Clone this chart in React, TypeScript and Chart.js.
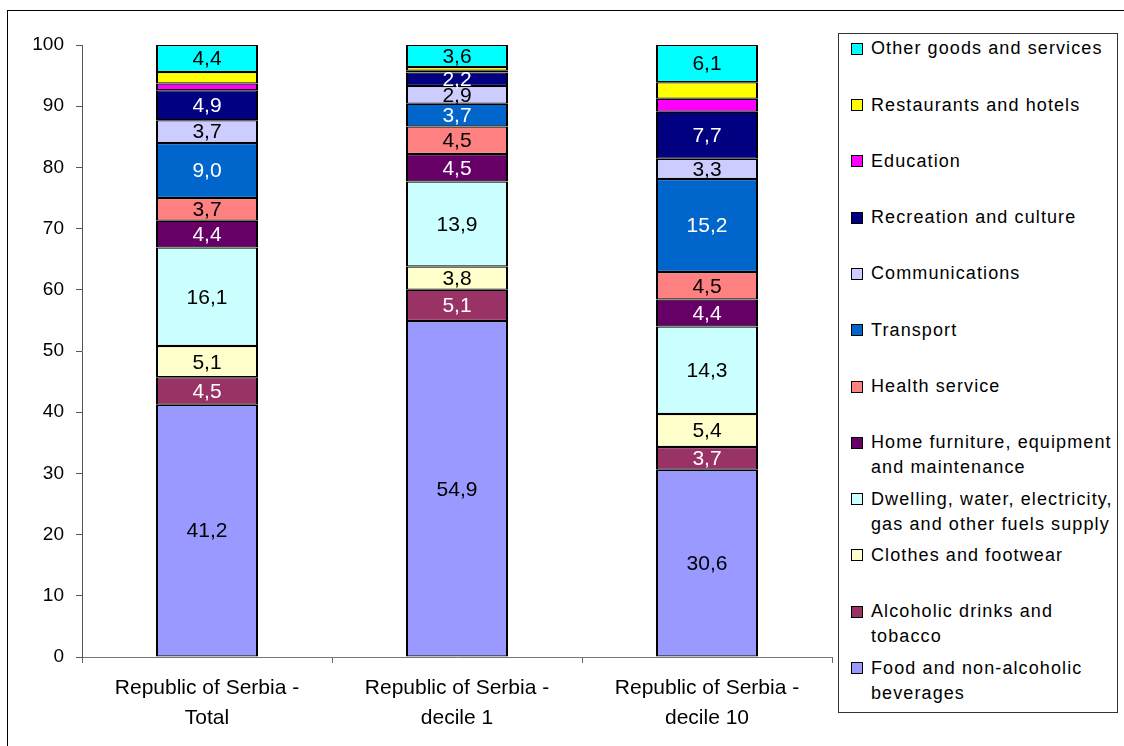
import React, { useEffect, useRef } from 'react';
import { Chart, registerables } from 'chart.js';

Chart.register(...registerables);

const FONT = '"Liberation Sans", Arial, Helvetica, sans-serif';

const categories = [
  ['Republic of Serbia -', 'Total'],
  ['Republic of Serbia -', 'decile 1'],
  ['Republic of Serbia -', 'decile 10'],
];

// Stack order bottom -> top
const food = [41.2, 54.9, 30.6];
const alcohol = [4.5, 5.1, 3.7];
const clothes = [5.1, 3.8, 5.4];
const dwelling = [16.1, 13.9, 14.3];
const furniture = [4.4, 4.5, 4.4];
const health = [3.7, 4.5, 4.5];
const transport = [9.0, 3.7, 15.2];
const communications = [3.7, 2.9, 3.3];
const recreation = [4.9, 2.2, 7.7];
const education = [1.1, 0.3, 2.1];
const restaurants = [1.9, 0.6, 2.7];
const other = [4.4, 3.6, 6.1];

const yMin = 0;
const yMax = 100;
const yStep = 10;

const series = [
  { name: ['Food and non-alcoholic', 'beverages'], data: food, color: '#9999FF', text: '#000', show: true },
  { name: ['Alcoholic drinks and', 'tobacco'], data: alcohol, color: '#993366', text: '#fff', show: true },
  { name: ['Clothes and footwear'], data: clothes, color: '#FFFFCC', text: '#000', show: true },
  { name: ['Dwelling, water, electricity,', 'gas and other fuels supply'], data: dwelling, color: '#CCFFFF', text: '#000', show: true },
  { name: ['Home furniture, equipment', 'and maintenance'], data: furniture, color: '#660066', text: '#fff', show: true },
  { name: ['Health service'], data: health, color: '#FF8080', text: '#000', show: true },
  { name: ['Transport'], data: transport, color: '#0066CC', text: '#fff', show: true },
  { name: ['Communications'], data: communications, color: '#CCCCFF', text: '#000', show: true },
  { name: ['Recreation and culture'], data: recreation, color: '#000080', text: '#fff', show: true },
  { name: ['Education'], data: education, color: '#FF00FF', text: '#000', show: false },
  { name: ['Restaurants and hotels'], data: restaurants, color: '#FFFF00', text: '#000', show: false },
  { name: ['Other goods and services'], data: other, color: '#00FFFF', text: '#000', show: true },
];

const fmt = (v: number) => v.toFixed(1).replace('.', ',');

const valueLabels = {
  id: 'valueLabels',
  afterDatasetsDraw(chart: any) {
    const ctx = chart.ctx;
    ctx.save();
    ctx.font = `21px ${FONT}`;
    ctx.textAlign = 'center';
    ctx.textBaseline = 'middle';
    chart.data.datasets.forEach((ds: any, i: number) => {
      if (!ds.showValues) return;
      const meta = chart.getDatasetMeta(i);
      meta.data.forEach((el: any, j: number) => {
        const v = ds.data[j];
        ctx.fillStyle = ds.valueColor;
        ctx.fillText(fmt(v), el.x, (el.y + el.base) / 2 + 1);
      });
    });
    ctx.restore();
  },
};

export default function App() {
  const ref = useRef<HTMLCanvasElement | null>(null);

  useEffect(() => {
    if (!ref.current) return;
    const chart = new Chart(ref.current, {
      type: 'bar',
      data: {
        labels: categories,
        datasets: series.map((s) => ({
          label: s.name.join(' '),
          data: s.data,
          backgroundColor: s.color,
          borderColor: '#000',
          borderWidth: { top: 1.25, bottom: 1.25, left: 2, right: 2 },
          borderSkipped: false,
          inflateAmount: 0,
          barPercentage: 0.408,
          categoryPercentage: 1,
          showValues: s.show,
          valueColor: s.text,
        })) as any,
      },
      options: {
        responsive: false,
        maintainAspectRatio: false,
        animation: false,
        layout: { padding: { top: 45, right: 292, bottom: 0, left: 0 } },
        plugins: {
          legend: { display: false },
          title: { display: false },
          tooltip: { enabled: false },
        },
        scales: {
          x: {
            stacked: true,
            offset: true,
            grid: { display: true, drawOnChartArea: false, offset: true, tickLength: 6, color: '#666' },
            border: { color: '#777', width: 1 },
            ticks: { color: '#000', font: { family: FONT, size: 21, lineHeight: 1.43 }, padding: 10, maxRotation: 0 },
            afterFit: (s: any) => { s.height = 89; },
          },
          y: {
            stacked: true,
            min: yMin,
            max: yMax,
            ticks: { stepSize: yStep, color: '#000', font: { family: FONT, size: 19 }, padding: 12 },
            grid: { display: true, drawOnChartArea: false, tickLength: 6, color: '#555' },
            border: { color: '#555', width: 1 },
            afterFit: (s: any) => { s.width = 82; },
          },
        },
      } as any,
      plugins: [valueLabels],
    });
    return () => chart.destroy();
  }, []);

  const legendItems = [...series].reverse();

  return (
    <div style={{ position: 'fixed', left: 0, top: 0, width: 1124, height: 746, background: '#fff', overflow: 'hidden' }}>
      <canvas ref={ref} width={1124} height={746} style={{ position: 'absolute', left: 0, top: 0, width: 1124, height: 746 }} />
      <div style={{ position: 'absolute', left: 7, top: 10, width: 1140, height: 760, border: '1px solid #000', boxSizing: 'border-box', pointerEvents: 'none' }} />
      <div style={{ position: 'absolute', left: 838, top: 33, width: 280, height: 680, border: '1px solid #333', boxSizing: 'border-box', background: '#fff' }}>
        {legendItems.map((s, i) => (
          <div key={i} style={{ position: 'absolute', left: 0, top: 47.7 + i * 56.3 - 33 - 12.5, width: 278 }}>
            <div style={{ position: 'absolute', left: 12, top: 6.5, width: 12, height: 12, background: s.color, border: '1px solid #000', boxSizing: 'border-box' }} />
            <div style={{ position: 'absolute', left: 32, top: 0, font: `18px ${FONT}`, lineHeight: '25px', letterSpacing: '1.1px', color: '#000', whiteSpace: 'nowrap' }}>
              {s.name.map((line, k) => (<div key={k}>{line}</div>))}
            </div>
          </div>
        ))}
      </div>
    </div>
  );
}
